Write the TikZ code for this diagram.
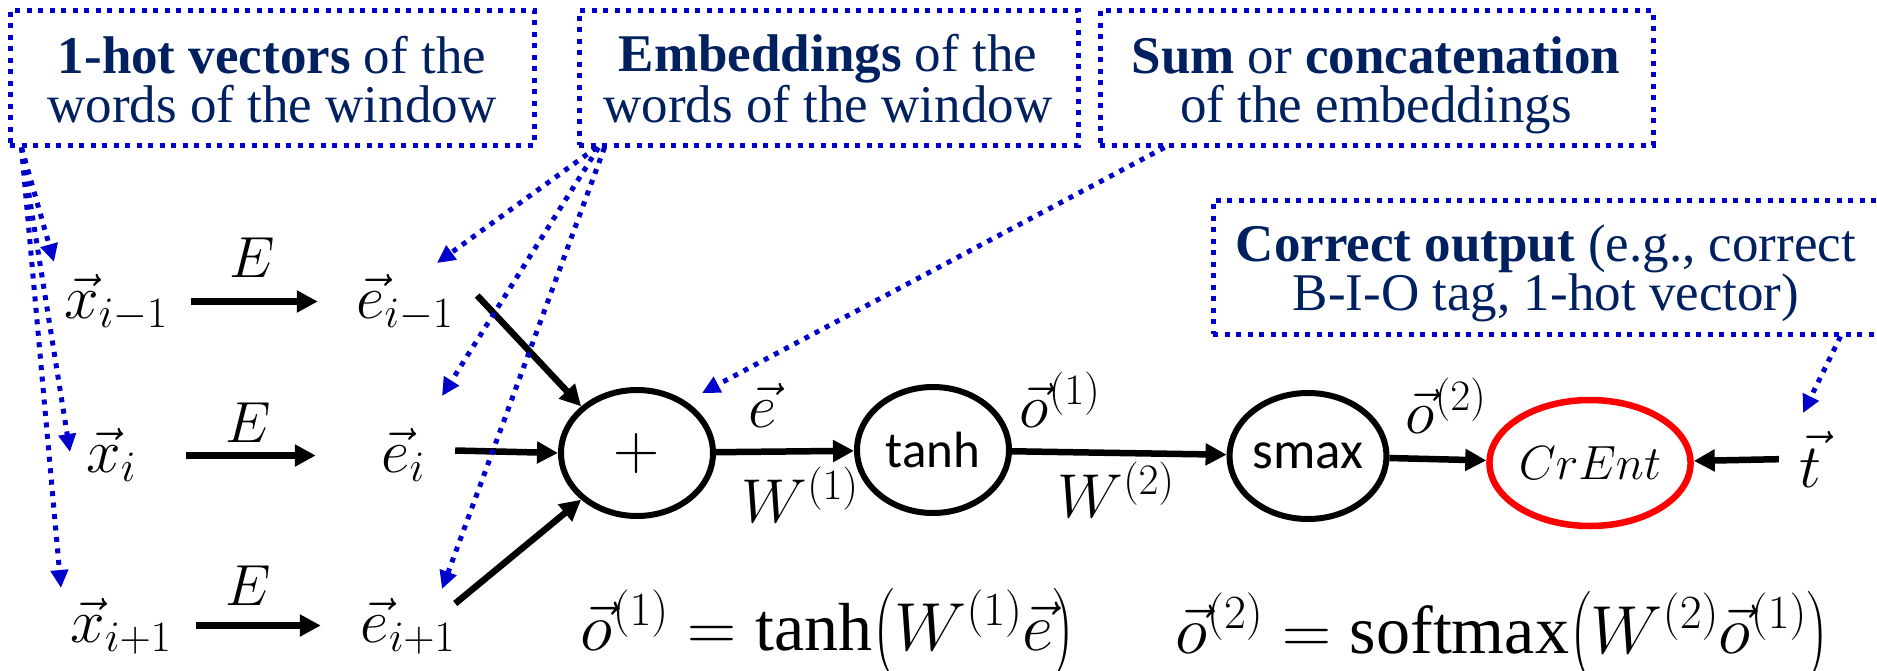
\RequirePackage{fix-cm}
\documentclass[tikz,border=0pt]{standalone}
\usepackage{amsmath}
\usepackage{fontspec}
\setmainfont{Liberation Serif}
\newfontfamily\calib{Carlito}
\usetikzlibrary{arrows.meta,shapes.geometric,calc}
\definecolor{navy}{RGB}{0,32,96}
\definecolor{dotblue}{RGB}{0,0,204}
\begin{document}
\begin{tikzpicture}[x=1pt,y=-1pt,
  mlab/.style={inner sep=0pt, font=\fontsize{62}{64}\selectfont},
  rowx/.style={mlab, minimum width=150pt, text height=44pt, text depth=11pt},
  rowe/.style={mlab, minimum width=174pt, text height=44pt, text depth=11pt},
  boxtxt/.style={align=center, text=navy, font=\fontsize{53}{49}\selectfont, inner sep=0pt},
  notebox/.style={draw=dotblue, line width=5pt, dash pattern=on 5pt off 6.5pt, inner sep=0pt},
  oper/.style={ellipse, draw, line width=6pt, minimum width=152pt, minimum height=126pt, inner sep=0pt},
  arr/.style={line width=6.5pt, -{Triangle[length=21pt,width=21pt]}},
  barr/.style={draw=dotblue, line width=5pt, dash pattern=on 5pt off 6.5pt, -{Triangle[length=18pt,width=17pt]}}
]
\useasboundingbox (0,0) rectangle (1877,670);

% annotation boxes
\node[notebox, minimum width=524pt, minimum height=135pt] (b1) at (272,77.5) {};
\node[notebox, minimum width=499pt, minimum height=135pt] (b2) at (828.5,77.5) {};
\node[notebox, minimum width=553pt, minimum height=135pt] (b3) at (1376.5,77.5) {};
\node[notebox, minimum width=667pt, minimum height=134pt] (b4) at (1546.5,267) {};
\node[boxtxt, anchor=base] (bt1) at (272,122) {\textbf{1-hot vectors} of the\\words of the window};
\node[boxtxt, anchor=base] (bt2) at (828,122) {\textbf{Embeddings} of the\\words of the window};
\node[boxtxt, anchor=base] (bt3) at (1376,122) {\textbf{Sum} or \textbf{concatenation}\\of the embeddings};
\node[boxtxt, anchor=base] (bt4) at (1546,310) {\textbf{Correct output} (e.g., correct\\B-I-O tag, 1-hot vector)};

% inputs and embeddings
\node[rowx, anchor=base] (x1) at (116,318) {$\vec{x}_{i-1}$};
\node[rowx, anchor=base] (x2) at (111,472) {$\vec{x}_{i}$};
\node[rowx, anchor=base] (x3) at (121,642) {$\vec{x}_{i+1}$};
\node[rowe, anchor=base] (e1) at (405,318) {$\vec{e}_{i-1}$};
\node[rowe, anchor=base] (e2) at (403,472) {$\vec{e}_{i}$};
\node[rowe, anchor=base] (e3) at (408,642) {$\vec{e}_{i+1}$};
\node[mlab, anchor=base, font=\fontsize{58}{60}\selectfont] (E1) at (252,277) {$E$};
\node[mlab, anchor=base, font=\fontsize{58}{60}\selectfont] (E2) at (248,442) {$E$};
\node[mlab, anchor=base, font=\fontsize{58}{60}\selectfont] (E3) at (248,605) {$E$};
\draw[arr] (x1.east) -- (x1.east -| e1.west);
\draw[arr] (x2.east) -- (x2.east -| e2.west);
\draw[arr] (x3.east) -- (x3.east -| e3.west);

% operators
\node[oper] (plus) at (637,453) {\fontsize{64}{64}\selectfont$+$};
\node[oper] (tanh) at (933,450) {\calib\fontsize{51}{51}\selectfont tanh};
\node[oper] (smax) at (1308,456) {\calib\fontsize{53}{53}\selectfont smax};
\node[oper, draw=red, line width=6.5pt] (crent) at (1590,463) {\fontsize{48}{48}\selectfont$CrEnt$};
\node[mlab, anchor=base] (t) at (1810,487) {$\vec{t}$};

\draw[arr] ([xshift=-15pt,yshift=6pt]e1.east) -- (plus.north west);
\draw[arr] ([xshift=-35pt,yshift=5pt]e2.east) -- (plus.west);
\draw[arr] ([xshift=-40pt,yshift=22pt]e3.east) -- (plus.south west);
\draw[arr] (plus) -- (tanh);
\draw[arr] (tanh) -- (smax);
\draw[arr] (smax) -- (crent);
\draw[arr] ([xshift=-20pt]t.west) -- (crent);

% edge labels
\node[mlab, anchor=base] (le) at (763,427) {$\vec{e}$};
\node[mlab, anchor=base] (lw1) at (800,522) {$W^{(1)}$};
\node[mlab, anchor=base] (lo1) at (1060,427) {$\vec{o}^{(1)}$};
\node[mlab, anchor=base] (lw2) at (1116,517) {$W^{(2)}$};
\node[mlab, anchor=base] (lo2) at (1446,433) {$\vec{o}^{(2)}$};

% equations
\node[mlab, anchor=base, font=\fontsize{68}{70}\selectfont] (eq1) at (828,650) {$\vec{o}^{(1)} = \tanh\bigl(W^{(1)}\vec{e}\bigr)$};
\node[mlab, anchor=base, font=\fontsize{68}{70}\selectfont] (eq2) at (1502,653) {$\vec{o}^{(2)} = \operatorname{softmax}\bigl(W^{(2)}\vec{o}^{(1)}\bigr)$};

% blue dotted pointers
\coordinate (ax1) at (54,262);
\coordinate (ax2) at (70,452);
\coordinate (ax3) at (61,588);
\coordinate (ae1) at (437,263);
\coordinate (ae2) at (442,396);
\coordinate (ae3) at (442,589);
\coordinate (aplus) at (702,393);
\coordinate (at) at (1803,413);
\draw[barr] ([xshift=14pt]b1.south west) -- (ax1);
\draw[barr] ([xshift=14pt]b1.south west) -- (ax2);
\draw[barr] ([xshift=14pt]b1.south west) -- (ax3);
\draw[barr] ([xshift=20pt]b2.south west) -- (ae1);
\draw[barr] ([xshift=22pt]b2.south west) -- (ae2);
\draw[barr] ([xshift=28pt]b2.south west) -- (ae3);
\draw[barr] ([xshift=67pt]b3.south west) -- (aplus);
\draw[barr] ([xshift=630pt]b4.south west) -- (at);
\end{tikzpicture}
\end{document}
